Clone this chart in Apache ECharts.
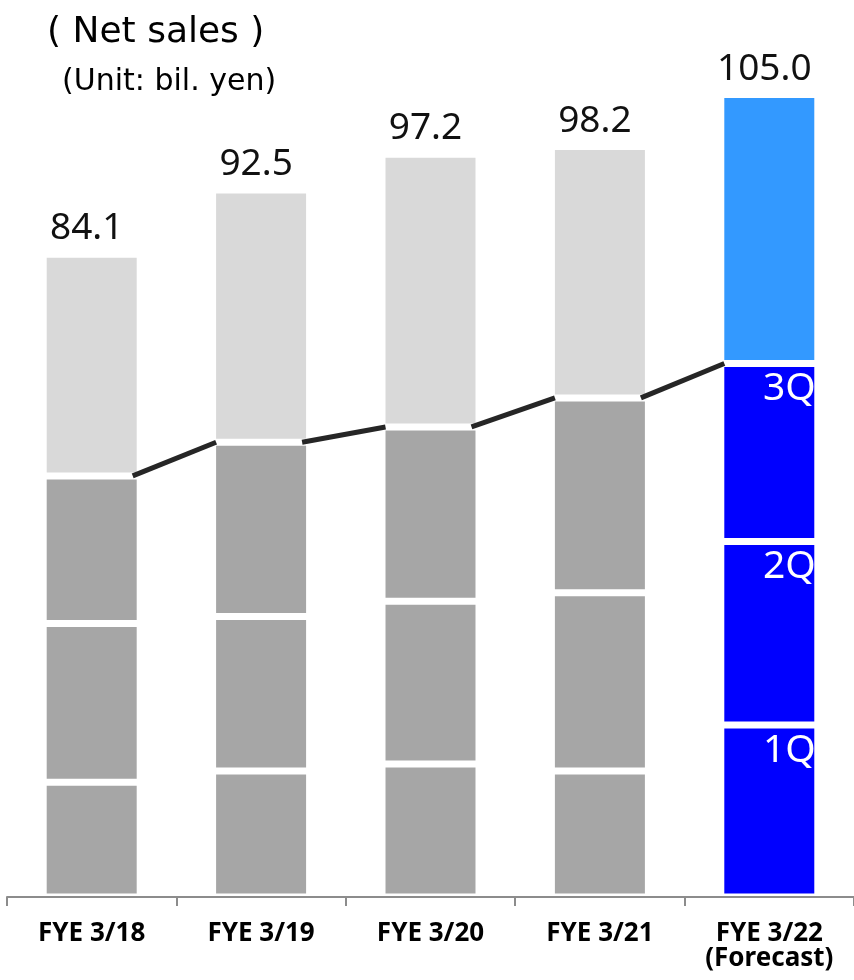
<!DOCTYPE html>
<html>
<head>
<meta charset="utf-8">
<script src="https://cdn.jsdelivr.net/npm/echarts@6/dist/echarts.min.js"></script>
<style>
html,body{margin:0;padding:0;background:#fff;}
#chart{width:854px;height:980px;}
</style>
</head>
<body>
<div id="chart"></div>
<script>
const categories = ['FYE 3/18', 'FYE 3/19', 'FYE 3/20', 'FYE 3/21', 'FYE 3/22\n(Forecast)'];
const q1 = [15.0, 16.5, 17.4, 16.5, 22.5];
const q2 = [20.8, 20.2, 21.3, 23.3, 24.0];
const q3 = [19.3, 22.8, 22.8, 25.5, 23.3];
const q4 = [29.0, 33.0, 35.7, 32.9, 35.2];
const totals = [84.1, 92.5, 97.2, 98.2, 105.0];
const quarterLabels = ['1Q', '2Q', '3Q'];
const forecastIndex = 4;

const pastColors = ['#A6A6A6', '#A6A6A6', '#A6A6A6', '#D9D9D9'];
const forecastColors = ['#0000FF', '#0000FF', '#0000FF', '#3399FF'];

const chart = echarts.init(document.getElementById('chart'), null, {renderer: 'canvas'});

const quarters = [q1, q2, q3, q4];
const barSeries = quarters.map((vals, qi) => ({
  type: 'bar',
  stack: 'sales',
  barWidth: 97,
  z: 2,
  data: vals.map((v, ci) => {
    const isF = ci === forecastIndex;
    const item = {
      value: v,
      itemStyle: {
        color: isF ? forecastColors[qi] : pastColors[qi],
        borderColor: '#ffffff',
        borderWidth: 3.5
      }
    };
    if (isF && qi < 3) {
      item.label = {
        show: true,
        position: 'insideTopRight',
        distance: 6,
        offset: [4, 0],
        formatter: quarterLabels[qi],
        color: '#ffffff',
        fontSize: 39,
        fontFamily: 'Noto Sans'
      };
    }
    if (qi === 3) {
      item.label = {
        show: true,
        position: 'top',
        distance: 7,
        offset: [-5, 0],
        formatter: totals[ci].toFixed(1),
        color: '#111111',
        fontSize: 37,
        fontFamily: 'Noto Sans'
      };
    }
    return item;
  })
}));

const q3cum = q1.map((v, i) => v + q2[i] + q3[i]);
const connectorData = [];
for (let i = 0; i < q3cum.length - 1; i++) {
  connectorData.push([i, q3cum[i], q3cum[i + 1]]);
}

const connectorSeries = {
  type: 'custom',
  z: 5,
  data: connectorData,
  encode: {x: 0, y: 1},
  renderItem: function (params, api) {
    const i = api.value(0);
    const p1 = api.coord([i, api.value(1)]);
    const p2 = api.coord([i + 1, api.value(2)]);
    return {
      type: 'line',
      shape: {x1: p1[0] + 41, y1: p1[1], x2: p2[0] - 45, y2: p2[1]},
      style: {stroke: '#262626', lineWidth: 5, lineCap: 'butt'}
    };
  }
};

chart.setOption({
  animation: false,
  title: [
    {text: '( Net sales )', left: 42, top: 10,
     textStyle: {fontFamily: 'DejaVu Sans', fontSize: 36, fontWeight: 'normal', color: '#000'}},
    {text: '(Unit: bil. yen)', left: 57, top: 62,
     textStyle: {fontFamily: 'DejaVu Sans', fontSize: 30, fontWeight: 'normal', color: '#000'}}
  ],
  grid: {left: 7, width: 849, top: 56.3, bottom: 83},
  xAxis: {
    type: 'category',
    data: categories,
    z: 10,
    axisLine: {lineStyle: {color: '#8C8C8C', width: 2}},
    axisTick: {show: true, length: 9, lineStyle: {color: '#8C8C8C', width: 2}},
    axisLabel: {
      margin: 24,
      fontFamily: 'Noto Sans',
      fontWeight: 'bold',
      fontSize: 26,
      lineHeight: 25,
      color: '#000'
    }
  },
  yAxis: {
    type: 'value',
    min: 0,
    max: 110,
    show: false,
    splitLine: {show: false}
  },
  series: [...barSeries, connectorSeries]
});
</script>
</body>
</html>
